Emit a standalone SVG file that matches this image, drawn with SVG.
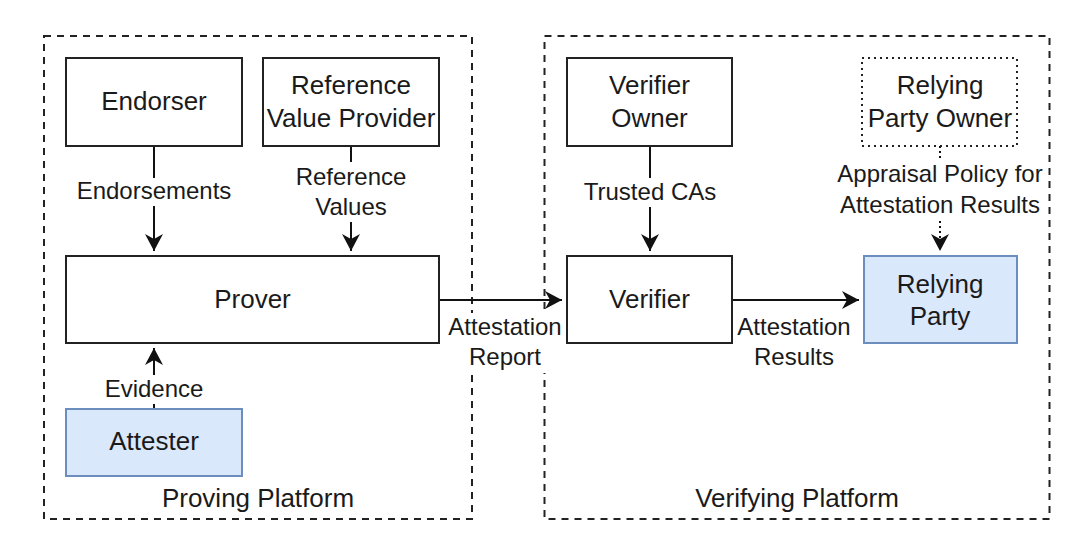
<svg xmlns="http://www.w3.org/2000/svg" width="1084" height="545" viewBox="0 0 1084 545">
<defs>
<style>
.container{fill:none;stroke:#222;stroke-width:2;stroke-dasharray:7 6}
.box{fill:#fff;stroke:#222;stroke-width:2}
.blue{fill:#dae8fc;stroke:#6c8ebf;stroke-width:2}
.dotted{fill:#fff;stroke:#222;stroke-width:2;stroke-dasharray:2 4}
.edge{fill:none;stroke:#111;stroke-width:2}
.edge-dot{fill:none;stroke:#111;stroke-width:2;stroke-dasharray:2 3}
.bg{fill:#fff;stroke:none}
text{font-family:"Liberation Sans",Arial,sans-serif;fill:#1a1a1a;text-anchor:middle}
.n{font-size:26px}
.l{font-size:24px}
</style>
<marker id="arr" markerUnits="userSpaceOnUse" markerWidth="18" markerHeight="18" refX="17" refY="9" orient="auto">
<path d="M0,0 L17,9 L0,18 L5,9 Z" fill="#111"/>
</marker>
</defs>

<g id="proving-platform">
<rect class="container" x="44" y="36" width="428" height="483"/>
<text class="n" x="258" y="507">Proving Platform</text>
</g>
<g id="verifying-platform">
<rect class="container" x="544.5" y="36" width="505" height="483"/>
<text class="n" x="797" y="507">Verifying Platform</text>
</g>

<g id="connectors">
<line class="edge" x1="154" y1="146" x2="154" y2="251" marker-end="url(#arr)"/>
<line class="edge" x1="351" y1="146" x2="351" y2="251" marker-end="url(#arr)"/>
<line class="edge" x1="154" y1="409" x2="154" y2="348" marker-end="url(#arr)"/>
<line class="edge" x1="439" y1="300" x2="562" y2="300" marker-end="url(#arr)"/>
<line class="edge" x1="650" y1="146" x2="650" y2="251" marker-end="url(#arr)"/>
<line class="edge-dot" x1="940" y1="146" x2="940" y2="251" marker-end="url(#arr)"/>
<line class="edge" x1="732" y1="300" x2="859" y2="300" marker-end="url(#arr)"/>

<rect class="bg" x="76" y="178" width="156" height="28"/>
<text class="l" x="154" y="199">Endorsements</text>
<rect class="bg" x="290" y="162" width="122" height="60"/>
<text class="l" x="351" y="185">Reference</text>
<text class="l" x="351" y="215">Values</text>
<rect class="bg" x="104" y="375" width="100" height="29"/>
<text class="l" x="154" y="397">Evidence</text>
<rect class="bg" x="449" y="313" width="112" height="60"/>
<text class="l" x="505" y="335">Attestation</text>
<text class="l" x="505" y="365">Report</text>
<rect class="bg" x="583" y="178" width="134" height="29"/>
<text class="l" x="650" y="200">Trusted CAs</text>
<rect class="bg" x="837" y="160" width="206" height="60"/>
<text class="l" x="940" y="182">Appraisal Policy for</text>
<text class="l" x="940" y="213">Attestation Results</text>
<rect class="bg" x="740" y="313" width="112" height="60"/>
<text class="l" x="794" y="335">Attestation</text>
<text class="l" x="794" y="365">Results</text>
</g>

<g id="endorser">
<rect class="box" x="66" y="58" width="176" height="88"/>
<text class="n" x="154" y="110">Endorser</text>
</g>
<g id="reference-value-provider">
<rect class="box" x="263" y="58" width="176" height="88"/>
<text class="n" x="351" y="94">Reference</text>
<text class="n" x="351" y="127">Value Provider</text>
</g>
<g id="prover">
<rect class="box" x="66" y="256" width="373" height="87"/>
<text class="n" x="252.5" y="308">Prover</text>
</g>
<g id="attester">
<rect class="blue" x="66" y="409" width="176" height="67"/>
<text class="n" x="154" y="450">Attester</text>
</g>
<g id="verifier-owner">
<rect class="box" x="567" y="58" width="165" height="88"/>
<text class="n" x="649.5" y="94">Verifier</text>
<text class="n" x="649.5" y="127">Owner</text>
</g>
<g id="relying-party-owner">
<rect class="dotted" x="862" y="58" width="155" height="88"/>
<text class="n" x="940" y="94">Relying</text>
<text class="n" x="940" y="127">Party Owner</text>
</g>
<g id="verifier">
<rect class="box" x="567" y="256" width="165" height="87"/>
<text class="n" x="649.5" y="308">Verifier</text>
</g>
<g id="relying-party">
<rect class="blue" x="864" y="256" width="153" height="87"/>
<text class="n" x="940" y="293">Relying</text>
<text class="n" x="940" y="325">Party</text>
</g>
</svg>
